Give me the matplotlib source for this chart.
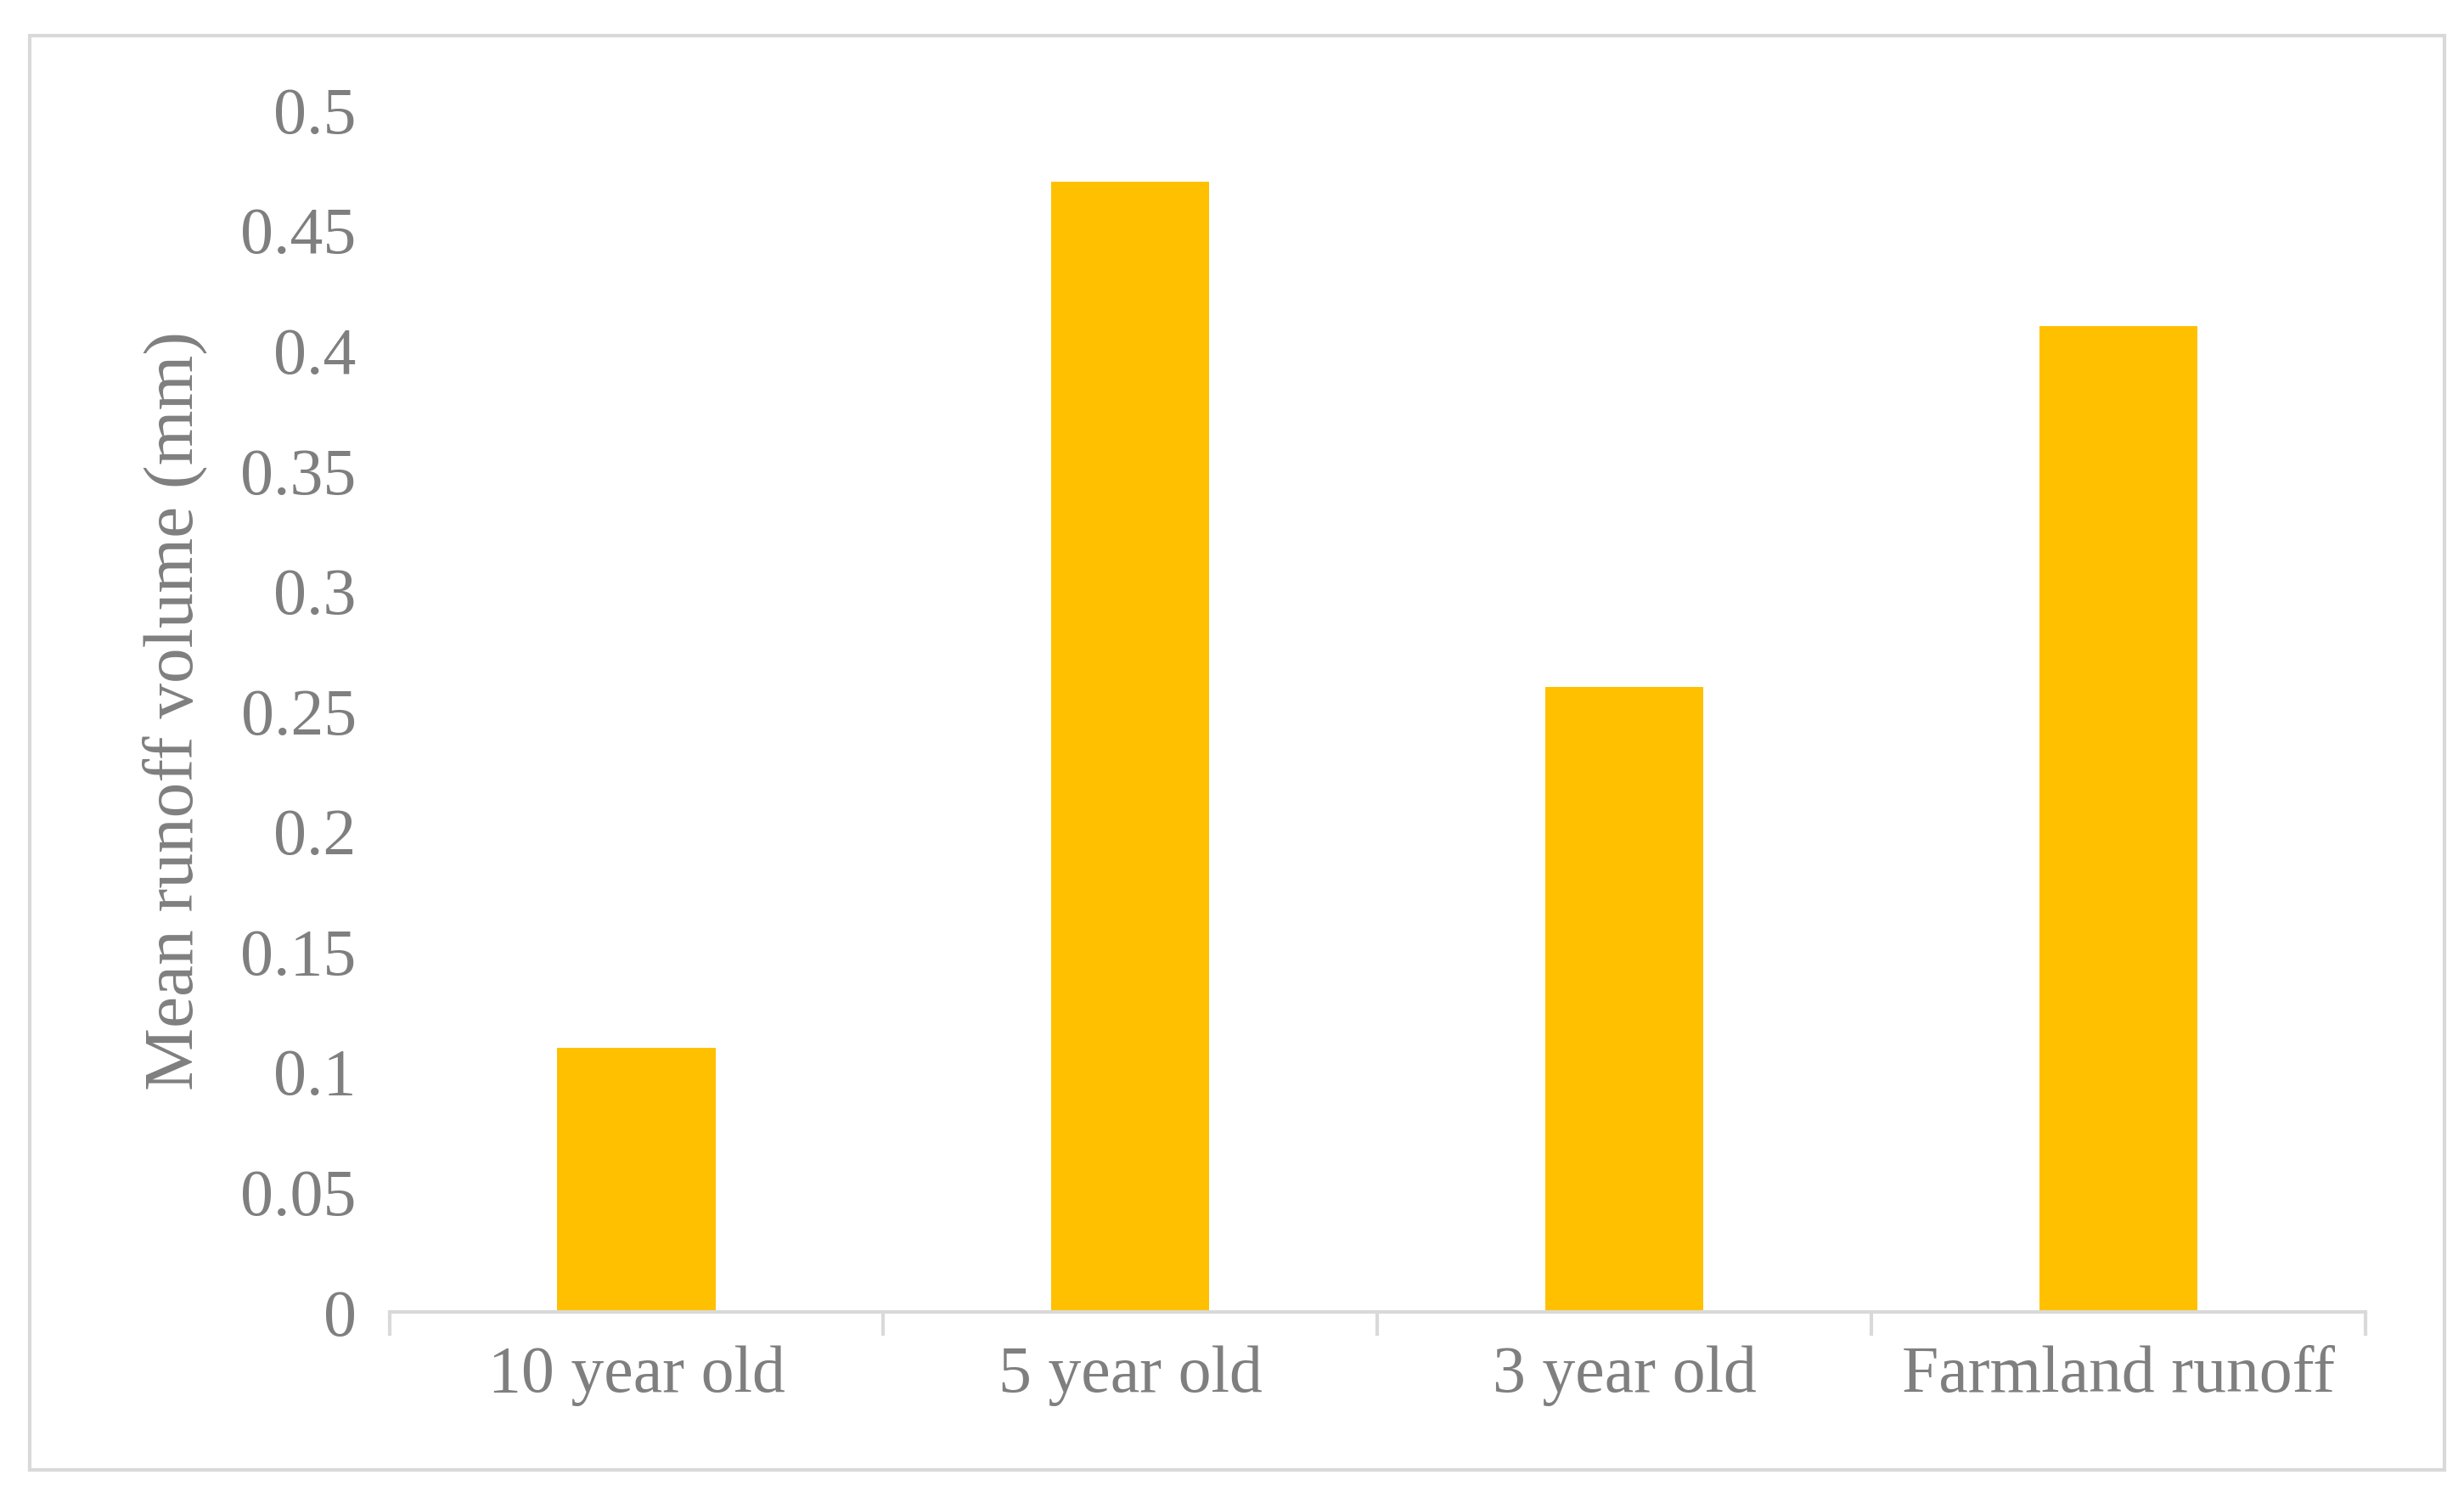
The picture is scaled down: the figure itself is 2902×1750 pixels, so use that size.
import matplotlib.pyplot as plt
from matplotlib.patches import Rectangle

categories = ["10 year old", "5 year old", "3 year old", "Farmland runoff"]
runoff = [0.11, 0.47, 0.26, 0.41]

plt.rcParams["font.family"] = ["Liberation Serif", "DejaVu Serif"]
grey = "#7f7f7f"

fig = plt.figure(figsize=(14.51, 8.75), dpi=200)
ax = fig.add_axes([0.158, 0.117, 0.802, 0.809])

x = range(len(categories))
ax.bar(x, runoff, width=0.32, color="#FFC000")
ax.set_xlim(-0.5, len(categories) - 0.5)
ax.set_ylim(0, 0.5)
ax.set_yticks([i * 0.05 for i in range(11)])
ax.set_yticklabels(["0", "0.05", "0.1", "0.15", "0.2", "0.25", "0.3",
                    "0.35", "0.4", "0.45", "0.5"])
ax.set_xticks(list(x))
ax.set_xticklabels(categories)
ax.set_xticks([i - 0.5 for i in range(len(categories) + 1)], minor=True)
ax.tick_params(axis="x", which="major", length=0, pad=14, labelsize=28, colors=grey)
ax.tick_params(axis="x", which="minor", length=10, width=1.5, color="#d9d9d9")
ax.tick_params(axis="y", length=0, pad=14, labelsize=28, colors=grey)
for s in ["top", "right", "left"]:
    ax.spines[s].set_visible(False)
ax.spines["bottom"].set_color("#d9d9d9")
ax.spines["bottom"].set_linewidth(1.5)
ax.set_ylabel("Mean runoff volume (mm)", fontsize=30, color=grey, labelpad=14)

fig.patches.append(Rectangle((0.012, 0.011), 0.98, 0.965, transform=fig.transFigure,
                             fill=False, edgecolor="#d9d9d9", linewidth=1.5))
fig.savefig("out.png", dpi=200)
